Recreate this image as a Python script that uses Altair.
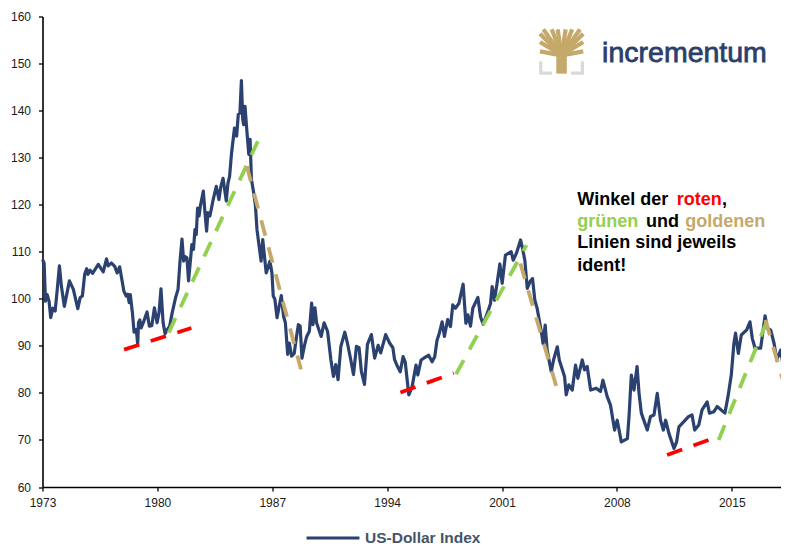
import altair as alt
import pandas as pd

years = [1973.0,1973.1,1973.18,1973.28,1973.4,1973.5,1973.63,1973.77,1973.9,1974.03,1974.15,1974.33,1974.48,1974.64,1974.88,1975.15,1975.29,1975.43,1975.57,1975.69,1975.77,1975.9,1976.05,1976.4,1976.7,1976.9,1977.0,1977.2,1977.4,1977.55,1977.7,1977.96,1978.1,1978.2,1978.28,1978.35,1978.48,1978.58,1978.72,1978.8,1978.85,1978.93,1979.01,1979.17,1979.37,1979.51,1979.66,1979.82,1979.98,1980.1,1980.22,1980.35,1980.47,1980.61,1980.75,1980.9,1981.12,1981.26,1981.38,1981.5,1981.6,1981.68,1981.8,1981.9,1982.1,1982.2,1982.29,1982.37,1982.45,1982.54,1982.62,1982.8,1982.9,1983.0,1983.08,1983.2,1983.3,1983.4,1983.59,1983.75,1983.87,1984.0,1984.2,1984.3,1984.4,1984.52,1984.7,1984.83,1984.93,1985.03,1985.12,1985.2,1985.26,1985.34,1985.43,1985.57,1985.65,1985.73,1985.85,1985.97,1986.07,1986.32,1986.42,1986.63,1986.86,1986.98,1987.06,1987.16,1987.29,1987.55,1987.69,1987.8,1987.94,1988.04,1988.18,1988.34,1988.45,1988.59,1988.7,1988.81,1988.95,1989.1,1989.26,1989.4,1989.48,1989.6,1989.7,1989.98,1990.16,1990.37,1990.57,1990.73,1990.87,1991.01,1991.18,1991.42,1991.58,1991.78,1991.95,1992.13,1992.29,1992.43,1992.62,1992.8,1993.04,1993.24,1993.45,1993.61,1993.91,1994.15,1994.35,1994.45,1994.62,1994.8,1994.97,1995.1,1995.32,1995.52,1995.76,1995.87,1996.07,1996.33,1996.53,1996.74,1996.9,1997.04,1997.18,1997.35,1997.49,1997.69,1997.86,1998.0,1998.16,1998.37,1998.63,1998.8,1998.92,1999.08,1999.22,1999.53,1999.69,1999.85,2000.1,2000.3,2000.4,2000.54,2000.7,2000.87,2001.01,2001.21,2001.56,2001.68,2001.88,2002.13,2002.25,2002.39,2002.54,2002.7,2002.86,2003.0,2003.14,2003.41,2003.5,2003.63,2003.75,2004.0,2004.14,2004.37,2004.49,2004.81,2004.91,2005.07,2005.28,2005.48,2005.62,2005.89,2006.03,2006.19,2006.4,2006.74,2007.0,2007.15,2007.41,2007.61,2007.86,2008.02,2008.27,2008.64,2008.74,2008.88,2009.04,2009.23,2009.35,2009.49,2009.85,2010.05,2010.26,2010.46,2010.66,2010.83,2010.97,2011.17,2011.48,2011.64,2011.78,2012.08,2012.38,2012.58,2012.74,2012.99,2013.19,2013.5,2013.64,2013.91,2014.11,2014.58,2014.77,2014.97,2015.13,2015.23,2015.4,2015.58,2015.91,2016.11,2016.25,2016.42,2016.76,2017.03,2017.17,2017.37,2017.58,2017.74,2017.98,2018.14,2018.25]
index_values = [108.4,107.6,99.5,100.9,99.5,96.0,98.0,97.4,102.0,107.0,102.7,98.4,101.0,103.8,102.0,97.9,100.2,100.6,105.2,106.4,105.2,106.1,105.4,107.3,105.7,108.5,107.0,107.6,106.9,105.5,106.8,101.6,100.6,101.0,99.2,100.9,97.0,92.9,93.5,90.3,94.9,95.5,93.8,95.2,97.2,94.2,94.3,98.1,94.9,97.0,102.1,94.9,92.6,93.5,94.2,97.0,100.4,102.0,108.0,112.7,108.0,109.0,108.7,103.8,111.5,110.5,114.7,113.7,119.3,117.6,119.7,122.9,118.3,114.4,118.3,117.6,119.3,121.1,123.9,121.1,123.9,125.6,120.8,124.6,126.0,131.0,136.3,134.6,139.2,139.5,146.4,138.1,137.0,140.9,136.7,130.7,133.9,125.4,122.9,120.0,114.7,108.0,112.6,105.5,108.0,105.5,100.6,99.9,96.0,100.7,96.3,94.9,88.2,90.6,87.8,88.4,91.3,94.5,94.2,87.4,89.9,92.0,93.1,99.1,94.5,98.1,94.9,92.0,94.9,93.1,87.1,83.5,86.0,82.8,89.9,92.9,90.6,87.1,83.9,89.9,89.6,84.6,81.8,90.3,92.4,87.4,90.1,88.5,92.4,90.6,89.6,87.1,85.7,84.5,87.7,86.6,79.6,81.3,85.9,83.8,87.0,87.6,88.0,86.6,87.7,91.2,92.7,95.1,92.0,95.6,94.1,98.7,98.0,99.0,103.1,94.8,96.6,94.2,98.0,100.3,96.2,94.6,96.9,99.0,102.6,99.7,103.3,107.4,103.3,109.3,110.0,108.2,109.7,112.5,110.7,108.2,102.2,103.6,104.3,99.7,98.0,92.7,90.5,94.4,89.1,84.5,87.0,89.8,87.0,83.5,79.6,81.7,80.6,85.9,83.1,87.0,84.9,85.6,80.6,81.0,80.3,82.7,79.2,77.4,72.1,74.2,69.6,70.3,75.0,83.8,80.6,85.6,79.9,75.7,72.1,75.0,75.3,79.9,74.2,72.1,74.2,71.4,68.2,69.6,72.8,73.9,75.0,75.3,72.1,73.2,76.4,78.1,75.7,76.0,77.1,75.7,79.2,83.8,90.5,92.7,88.4,92.3,93.4,95.1,91.6,89.5,89.5,96.4,93.7,93.4,90.5,87.0,89.1,85.6,86.3]

x_ticks = [1973,1980,1987,1994,2001,2008,2015]
y_ticks = list(range(60,170,10))
line_id = ["r1","r1","r2","r2","r3","r3","g1","g1","g2","g2","g3","g3","y1","y1","y2","y2","y3","y3"]
line_kind = ["rot"]*6 + ["grün"]*6 + ["gold"]*6
line_x = [1977.97,1982.07,1994.81,1998.06,2011.06,2013.6,1980.69,1986.12,1998.2,2002.49,2014.2,2017.15,1985.45,1988.75,2002.12,2004.3,2017.05,2018.5]
line_y = [89.2,93.8,80.1,84.2,66.8,70.0,92.8,133.5,84.0,111.4,70.0,95.3,128.2,85.0,107.5,81.5,95.5,78.1]

note_text = ["Winkel der ","roten",",","grünen","und","goldenen","Linien sind jeweils","ident!"]
note_x = [2005.59,2011.65,2014.41,2005.59,2009.78,2012.17,2005.59,2005.59]
note_y = [119.9,119.9,119.9,115.3,115.3,115.3,110.7,106.0]
note_col = ["#000000","#ff0000","#000000","#92d050","#000000","#c4a96b","#000000","#000000"]

# logo: branch tips fan out of the crown centre (years / index units)
tip_x = [2003.52,2004.03,2004.39,2004.88,2005.28,2005.75,2003.31,2005.95,2003.31,2005.95,2003.31,2005.95]
tip_y = [157.27,157.27,157.27,157.27,157.27,157.27,156.35,156.35,154.58,154.58,152.60,152.60]
crown_x, crown_y = 2004.63, 151.75
trunk_x = [2004.63,2004.63]
trunk_y = [152.5,147.85]
gray_id = ["l","l","l","r","r","r"]
gray_x = [2003.36,2003.36,2004.05,2005.9,2005.9,2005.2]
gray_y = [150.5,147.95,147.95,150.5,147.95,147.95]

df = pd.DataFrame({"year": years, "value": index_values, "series": "US-Dollar Index"})
lines = pd.DataFrame({"id": line_id, "kind": line_kind, "x": line_x, "y": line_y})
notes = pd.DataFrame({"t": note_text, "x": note_x, "y": note_y, "c": note_col})
branch_rows = []
for i, (tx, ty) in enumerate(zip(tip_x, tip_y)):
    branch_rows += [{"id": i, "o": 0, "x": crown_x, "y": crown_y}, {"id": i, "o": 1, "x": tx, "y": ty}]
branches = pd.DataFrame(branch_rows)
trunk = pd.DataFrame({"x": trunk_x, "y": trunk_y, "o": [0, 1]})
gray = pd.DataFrame({"id": gray_id, "x": gray_x, "y": gray_y})
gray["o"] = range(len(gray))
brand = pd.DataFrame({"t": ["incrementum"], "x": [2007.1], "y": [150.4]})

FONT = "Liberation Sans"
xs = alt.Scale(domain=[1973, 2018.0], nice=False, zero=False)
ys = alt.Scale(domain=[60, 160], nice=False, zero=False)
X = lambda f: alt.X(f, scale=xs, title=None, axis=alt.Axis(
    values=x_ticks, format="d", grid=False, tickSize=4, labelPadding=6, labelFlush=False, labelOverlap=False))
Y = lambda f: alt.Y(f, scale=ys, title=None, axis=alt.Axis(
    values=y_ticks, grid=False, tickSize=4, labelPadding=8))
px = lambda f: alt.X(f, scale=xs)
py = lambda f: alt.Y(f, scale=ys)

main = alt.Chart(df).mark_line(strokeWidth=3.2, strokeJoin="round", clip=False).encode(
    x=X("year:Q"), y=Y("value:Q"),
    color=alt.Color("series:N", scale=alt.Scale(domain=["US-Dollar Index"], range=["#2b4170"]),
        legend=alt.Legend(orient="none", legendX=262.5, legendY=493.5, title=None, symbolType="stroke",
                          symbolSize=2800, symbolStrokeWidth=2.8, labelFont=FONT, labelFontSize=15.5,
                          labelFontWeight="bold", labelColor="#44546a", labelOffset=4)))

dashes = alt.Chart(lines).mark_line(strokeWidth=3.8, strokeDash=[16, 12], clip=False).encode(
    x=px("x:Q"), y=py("y:Q"), detail="id:N",
    stroke=alt.Stroke("kind:N", scale=alt.Scale(domain=["rot", "grün", "gold"], range=["#ff0000", "#92d050", "#c4a96b"]), legend=None))

note = alt.Chart(notes).mark_text(font=FONT, fontSize=18, fontWeight="bold", align="left", baseline="alphabetic").encode(
    x=px("x:Q"), y=py("y:Q"), text="t:N", color=alt.Color("c:N", scale=None))

logo_gold = alt.Chart(branches).mark_line(color="#c4a96b", strokeWidth=4.2, strokeCap="butt").encode(
    x=px("x:Q"), y=py("y:Q"), detail="id:N", order="o:Q")
logo_trunk = alt.Chart(trunk).mark_line(color="#c4a96b", strokeWidth=10.5, strokeCap="butt").encode(
    x=px("x:Q"), y=py("y:Q"), order="o:Q")
logo_gray = alt.Chart(gray).mark_line(color="#d9d9d9", strokeWidth=3.2, strokeCap="butt").encode(
    x=px("x:Q"), y=py("y:Q"), detail="id:N", order="o:Q")
brand_text = alt.Chart(brand).mark_text(font=FONT, fontSize=28.5, align="left", baseline="alphabetic", color="#2b3f6b", stroke="#2b3f6b", strokeWidth=0.8).encode(
    x=px("x:Q"), y=py("y:Q"), text="t:N")

chart = alt.layer(main, dashes, note, logo_gray, logo_gold, logo_trunk, brand_text).resolve_scale(color="independent").properties(
    width=738.5, height=470.5,
    padding={"left": 34.5, "top": 8.5, "right": 0, "bottom": 59},
    autosize=alt.AutoSizeParams(type="none", contains="content"),
).configure_view(stroke=None).configure_axis(
    domainColor="#000000", domainWidth=1.6, tickColor="#000000", tickWidth=1.3,
    labelFont=FONT, labelFontSize=12, labelColor="#1a1a1a")

chart.save("out.html", embed_options={"renderer": "svg", "actions": False})
